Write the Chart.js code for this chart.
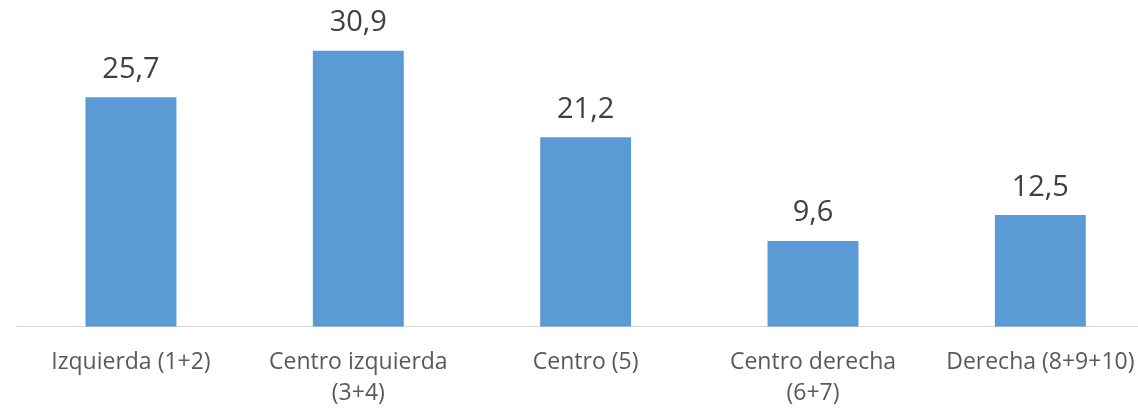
<!DOCTYPE html>
<html>
<head>
  <meta charset="utf-8">
  <title>Autoubicación ideológica</title>
  <script src="https://cdn.jsdelivr.net/npm/chart.js"></script>
  <style>
    html, body { margin: 0; padding: 0; background: #fff; overflow: hidden; }
    #wrap { width: 1160px; height: 412px; }
  </style>
</head>
<body>
  <div id="wrap"><canvas id="chart" width="1160" height="412"></canvas></div>
<script>
const categories = [
  'Izquierda (1+2)',
  ['Centro izquierda', '(3+4)'],
  'Centro (5)',
  ['Centro derecha', '(6+7)'],
  'Derecha (8+9+10)'
];
const values = [25.7, 30.9, 21.2, 9.6, 12.5];

const FONT = '"Open Sans", "DejaVu Sans", sans-serif';

// value labels above each bar, comma decimals
const barLabels = {
  id: 'barLabels',
  afterDatasetsDraw(chart) {
    const ctx = chart.ctx;
    const meta = chart.getDatasetMeta(0);
    ctx.save();
    ctx.font = '29px ' + FONT;
    ctx.fillStyle = '#404040';
    ctx.textAlign = 'center';
    ctx.textBaseline = 'alphabetic';
    meta.data.forEach((bar, i) => {
      ctx.fillText(values[i].toFixed(1).replace('.', ','), bar.x, bar.y - 19.5);
    });
    ctx.restore();
  }
};

new Chart(document.getElementById('chart').getContext('2d'), {
  type: 'bar',
  data: {
    labels: categories,
    datasets: [{
      data: values,
      backgroundColor: '#5b9bd5',
      barPercentage: 0.4,
      categoryPercentage: 1
    }]
  },
  options: {
    responsive: false,
    animation: false,
    layout: { padding: { left: 17.3, right: 6, top: 14.1, bottom: 0 } },
    plugins: { legend: { display: false }, tooltip: { enabled: false } },
    scales: {
      x: {
        grid: { display: false, drawTicks: false },
        border: { display: true, color: '#d9d9d9', width: 1 },
        ticks: {
          color: '#595959',
          padding: 20,
          maxRotation: 0,
          autoSkip: false,
          font: { family: FONT, size: 23, lineHeight: 31 / 23 }
        },
        afterFit(scale) { scale.height = 85.3; }
      },
      y: {
        display: false,
        min: 0,
        max: 35
      }
    }
  },
  plugins: [barLabels]
});
</script>
</body>
</html>
